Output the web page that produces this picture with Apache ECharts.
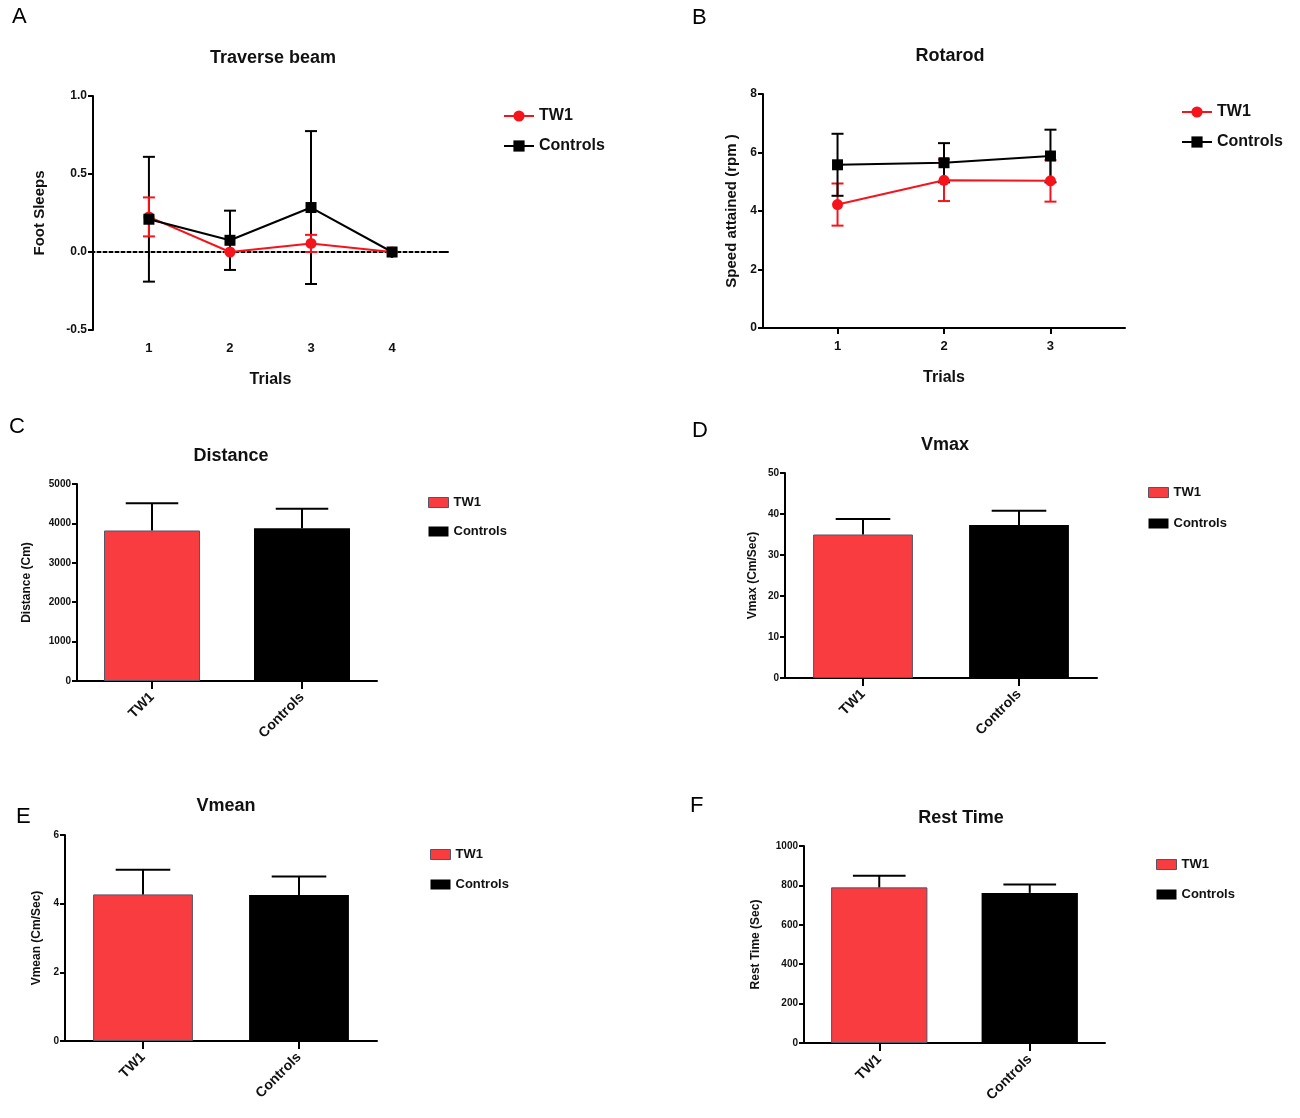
<!DOCTYPE html>
<html>
<head>
<meta charset="utf-8">
<script src="https://cdn.jsdelivr.net/npm/echarts@6/dist/echarts.min.js"></script>
<style>html,body{margin:0;padding:0;background:#fff}#c{width:1300px;height:1118px}</style>
</head>
<body>
<div id="c"></div>
<script>
// ---------- data ----------
const groupNames = ['TW1', 'Controls'];
const trialsA = [1, 2, 3, 4];
const beamTW1 = [0.225, 0.0, 0.055, 0.0];
const beamTW1Err = [0.125, 0.0, 0.055, 0.0];
const beamCtrl = [0.21, 0.075, 0.285, 0.0];
const beamCtrlErr = [0.40, 0.19, 0.49, 0.0];
const beamZero = [0];

const trialsB = [1, 2, 3];
const rotaTW1 = [4.22, 5.05, 5.03];
const rotaTW1Err = [0.72, 0.71, 0.71];
const rotaCtrl = [5.58, 5.65, 5.88];
const rotaCtrlErr = [1.06, 0.67, 0.9];

const distMean = [3820, 3880];
const distErr = [690, 490];
const vmaxMean = [35.0, 37.3];
const vmaxErr = [3.8, 3.5];
const vmeanMean = [4.27, 4.25];
const vmeanErr = [0.72, 0.54];
const restMean = [790, 762];
const restErr = [59, 42];

// ---------- styling ----------
const RED = '#f5141c';
const BARRED = '#f83c40';
const FONT = 'Liberation Sans, Arial, sans-serif';

function lineErrItem(color) {
  return function (params, api) {
    const x = api.value(0), lo = api.value(1), hi = api.value(2);
    const p0 = api.coord([x, lo]), p1 = api.coord([x, hi]);
    const w = 6;
    const st = { stroke: color, lineWidth: 2 };
    return { type: 'group', children: [
      { type: 'line', shape: { x1: p0[0], y1: p0[1], x2: p1[0], y2: p1[1] }, style: st },
      { type: 'line', shape: { x1: p0[0] - w, y1: p0[1], x2: p0[0] + w, y2: p0[1] }, style: st },
      { type: 'line', shape: { x1: p1[0] - w, y1: p1[1], x2: p1[0] + w, y2: p1[1] }, style: st }
    ]};
  };
}
function barErrItem(params, api) {
  const x = api.value(0), m = api.value(1), h = api.value(2);
  const p0 = api.coord([x, m]), p1 = api.coord([x, h]);
  const w = api.size([1, 0])[0] * 0.35 / 2;
  const st = { stroke: '#000', lineWidth: 2 };
  return { type: 'group', children: [
    { type: 'line', shape: { x1: p0[0], y1: p0[1], x2: p1[0], y2: p1[1] }, style: st },
    { type: 'line', shape: { x1: p1[0] - w, y1: p1[1], x2: p1[0] + w, y2: p1[1] }, style: st }
  ]};
}
function zeroLineItem(params, api) {
  const cs = params.coordSys;
  const y = api.coord([1, api.value(0)])[1];
  return { type: 'line', shape: { x1: cs.x + 2, y1: y, x2: cs.x + cs.width - 6, y2: y },
    style: { stroke: '#a8a8a8', lineWidth: 2, lineDash: [2, 4] } };
}
function errData(xs, mean, err) { return xs.map((x, i) => [x, mean[i] - err[i], mean[i] + err[i]]); }
function barErrData(mean, err) { return mean.map((m, i) => [i, m, m + err[i]]); }

const grids = [
  { left: 93, top: 96, width: 355, height: 234 },
  { left: 763, top: 94, width: 362, height: 234 },
  { left: 77, top: 484, width: 300, height: 197 },
  { left: 785, top: 473, width: 312, height: 205 },
  { left: 65, top: 835, width: 312, height: 206 },
  { left: 804, top: 846, width: 301, height: 197 }
];

const axisLine = { show: true, lineStyle: { color: '#000', width: 2 } };
const tickLab = (size) => ({ color: '#111', fontFamily: FONT, fontWeight: 'bold', fontSize: size });

function valueY(gi, min, max, interval, name, gap, nameSize, labSize) {
  return {
    type: 'value', gridIndex: gi, min: min, max: max, interval: interval,
    name: name, nameLocation: 'middle', nameGap: gap,
    nameTextStyle: { color: '#111', fontFamily: FONT, fontWeight: 'bold', fontSize: nameSize },
    axisLine: axisLine, axisTick: { show: true, length: 5, lineStyle: { color: '#000', width: 2 } },
    axisLabel: Object.assign(tickLab(labSize), { margin: 6, formatter: (v) => String(v) }),
    splitLine: { show: false }
  };
}
function catX(gi) {
  return {
    type: 'category', gridIndex: gi, data: groupNames,
    axisLine: axisLine,
    axisTick: { show: true, alignWithLabel: true, length: 8, lineStyle: { color: '#000', width: 2 } },
    axisLabel: Object.assign(tickLab(14), { rotate: 45, margin: 14 })
  };
}
function trialX(gi, min, max, ticks) {
  return {
    type: 'value', gridIndex: gi, min: min, max: max,
    name: 'Trials', nameLocation: 'middle', nameGap: 42,
    nameTextStyle: { color: '#111', fontFamily: FONT, fontWeight: 'bold', fontSize: 16 },
    axisLine: axisLine,
    axisTick: { show: true, length: 6, customValues: ticks, lineStyle: { color: '#000', width: 2 } },
    axisLabel: Object.assign(tickLab(13), { customValues: ticks, margin: 12 }),
    splitLine: { show: false }
  };
}

const xAxes = [
  trialX(0, 0.31, 4.69, trialsA),
  trialX(1, 0.3, 3.7, trialsB),
  catX(2), catX(3), catX(4), catX(5)
];
const yAxes = [
  valueY(0, -0.5, 1.0, 0.5, 'Foot Sleeps', 46, 15, 12),
  valueY(1, 0, 8, 2, 'Speed attained (rpm )', 24, 15, 12),
  valueY(2, 0, 5000, 1000, 'Distance (Cm)', 44, 12, 10),
  valueY(3, 0, 50, 10, 'Vmax (Cm/Sec)', 26, 12, 10),
  valueY(4, 0, 6, 2, 'Vmean (Cm/Sec)', 22, 12, 10),
  valueY(5, 0, 1000, 200, 'Rest Time (Sec)', 42, 12, 10)
];
yAxes[0].axisLabel.formatter = (v) => v.toFixed(1);

function lineSeries(name, gi, xs, ys, color, symbol) {
  return {
    type: 'line', name: name, xAxisIndex: gi, yAxisIndex: gi,
    data: xs.map((x, i) => [x, ys[i]]),
    symbol: symbol, symbolSize: 11, z: 5,
    itemStyle: { color: color }, lineStyle: { color: color, width: 2 }
  };
}
function errSeries(gi, xs, mean, err, color, z) {
  return {
    type: 'custom', xAxisIndex: gi, yAxisIndex: gi, z: z,
    data: errData(xs, mean, err), encode: { x: 0, y: [1, 2] },
    renderItem: lineErrItem(color), silent: true
  };
}
function barPair(gi, mean, err) {
  return [
    { type: 'bar', name: 'TW1', xAxisIndex: gi, yAxisIndex: gi, barWidth: '64%', barGap: '-100%',
      data: [mean[0], '-'], itemStyle: { color: BARRED, borderColor: '#556', borderWidth: 1 } },
    { type: 'bar', name: 'Controls', xAxisIndex: gi, yAxisIndex: gi, barWidth: '64%', barGap: '-100%',
      data: ['-', mean[1]], itemStyle: { color: '#000' } },
    { type: 'custom', xAxisIndex: gi, yAxisIndex: gi, z: 4, silent: true,
      data: barErrData(mean, err), encode: { x: 0, y: [1, 2] }, renderItem: barErrItem }
  ];
}

// zero reference line in panel A (drawn under the data)
const zeroLineSeries = {
  type: 'custom', xAxisIndex: 0, yAxisIndex: 0, z: 1, silent: true,
  data: beamZero.map(v => [v]), encode: { y: 0 }, renderItem: zeroLineItem
};

const series = [
  lineSeries('TW1', 0, trialsA, beamTW1, RED, 'circle'),
  lineSeries('Controls', 0, trialsA, beamCtrl, '#000', 'rect'),
  zeroLineSeries,
  errSeries(0, trialsA, beamCtrl, beamCtrlErr, '#000', 3),
  errSeries(0, trialsA, beamTW1, beamTW1Err, RED, 4),
  lineSeries('TW1', 1, trialsB, rotaTW1, RED, 'circle'),
  lineSeries('Controls', 1, trialsB, rotaCtrl, '#000', 'rect'),
  errSeries(1, trialsB, rotaTW1, rotaTW1Err, RED, 3),
  errSeries(1, trialsB, rotaCtrl, rotaCtrlErr, '#000', 4)
].concat(barPair(2, distMean, distErr), barPair(3, vmaxMean, vmaxErr),
         barPair(4, vmeanMean, vmeanErr), barPair(5, restMean, restErr));

function lineLegend(left, top) {
  return {
    left: left, top: top, orient: 'vertical', itemGap: 14, itemWidth: 30, itemHeight: 14,
    textStyle: { color: '#111', fontFamily: FONT, fontWeight: 'bold', fontSize: 16 },
    data: groupNames, selectedMode: false
  };
}
function barLegend(left, top, gap) {
  return {
    left: left, top: top, orient: 'vertical', itemGap: gap, itemWidth: 20, itemHeight: 10,
    textStyle: { color: '#111', fontFamily: FONT, fontWeight: 'bold', fontSize: 13 },
    selectedMode: false,
    data: [
      { name: 'TW1', icon: 'rect', itemStyle: { color: BARRED, borderColor: '#556', borderWidth: 1 } },
      { name: 'Controls', icon: 'rect', itemStyle: { color: '#000', borderWidth: 0 } }
    ]
  };
}

function ttl(text, x, y) {
  return { text: text, left: x, top: y, textAlign: 'center',
    textStyle: { color: '#111', fontFamily: FONT, fontWeight: 'bold', fontSize: 18 } };
}
function letter(t, x, y) {
  return { type: 'text', left: x, top: y,
    style: { text: t, fill: '#000', font: '22px ' + FONT } };
}

const chart = echarts.init(document.getElementById('c'));
chart.setOption({
  animation: false,
  backgroundColor: '#fff',
  title: [
    ttl('Traverse beam', 268, 44),
    ttl('Rotarod', 945, 42),
    ttl('Distance', 226, 442),
    ttl('Vmax', 940, 431),
    ttl('Vmean', 221, 792),
    ttl('Rest Time', 956, 804)
  ],
  graphic: [
    letter('A', 12, 6), letter('B', 692, 7), letter('C', 9, 416),
    letter('D', 692, 420), letter('E', 16, 806), letter('F', 690, 795)
  ],
  legend: [
    lineLegend(498, 103),
    lineLegend(1176, 99),
    barLegend(423, 491, 16),
    barLegend(1143, 481, 18),
    barLegend(425, 843, 17),
    barLegend(1151, 853, 17)
  ],
  grid: grids,
  xAxis: xAxes,
  yAxis: yAxes,
  series: series
});
</script>
</body>
</html>
